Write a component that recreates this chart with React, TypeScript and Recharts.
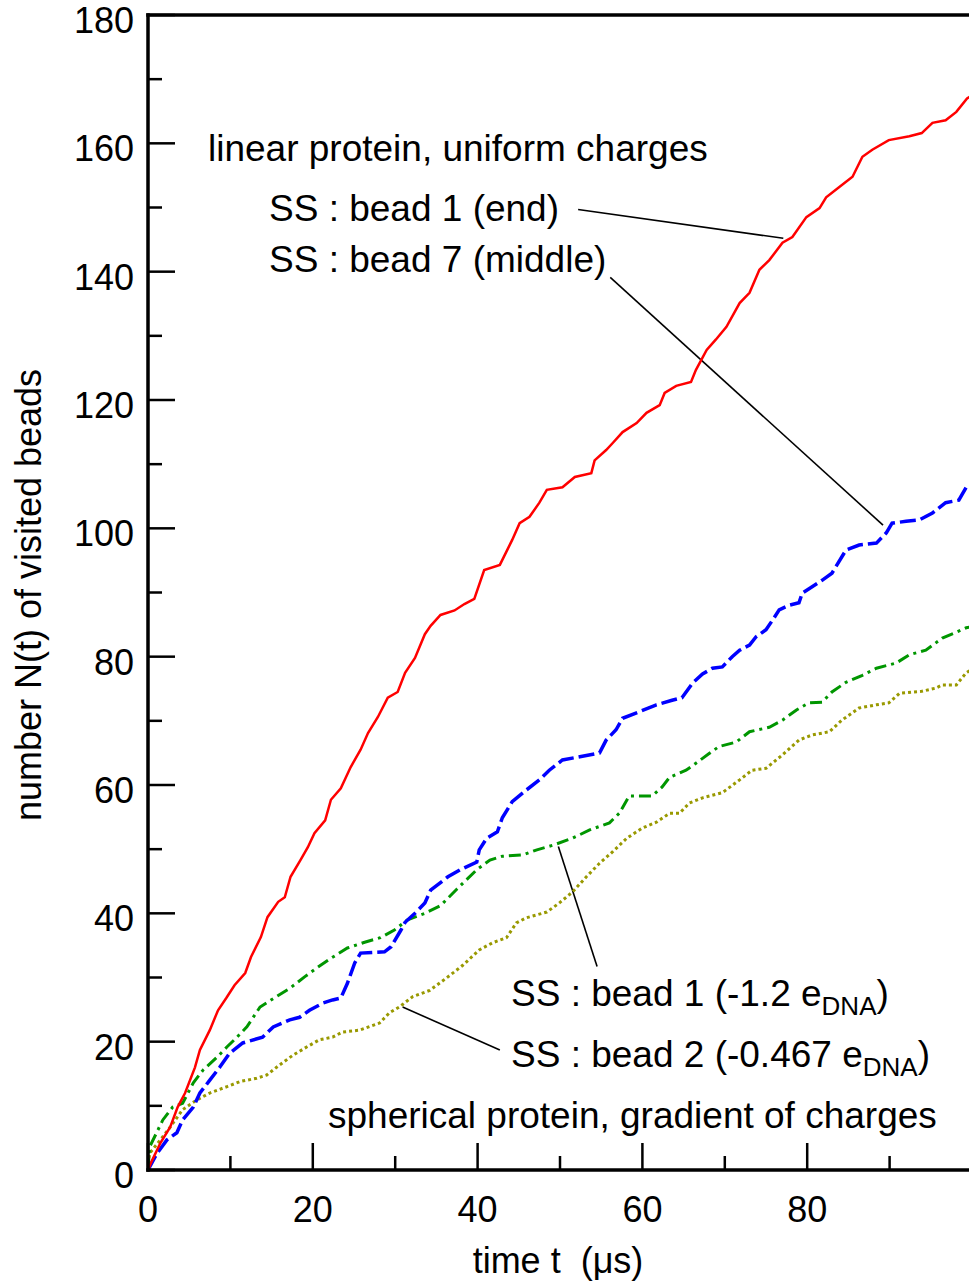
import { LineChart, Line, XAxis, YAxis, ReferenceLine } from "recharts";

// [time t (us), number of visited beads N(t)]
const endBead: [number, number][] = [
  [0, 0], [0.5, 1.5], [1.5, 4.2], [2.7, 6.7], [3.6, 9.8], [4.5, 12], [5.7, 16], [6.3, 18.7],
  [7.5, 21.8], [8.5, 24.9], [9.5, 26.8], [10.5, 28.8], [11.8, 30.7], [12.5, 33.2], [13.7, 36.3],
  [14.5, 39.4], [15.8, 41.8], [16.6, 42.5], [17.3, 45.7], [18.5, 48.3], [19.4, 50.3], [20.2, 52.5],
  [21.5, 54.5], [22.2, 57.7], [23.4, 59.5], [24.6, 62.8], [25.8, 65.5], [26.7, 68.1], [27.9, 70.6],
  [29.1, 73.6], [30.3, 74.5], [31.2, 77.5], [32.4, 79.8], [33.6, 83.5], [34.3, 84.8], [35.5, 86.5],
  [37.2, 87.2], [38.4, 88.2], [39.6, 89], [40.8, 93.5], [42.7, 94.3], [44.2, 98.2], [45.1, 100.8],
  [46.3, 101.8], [47.5, 104], [48.4, 106], [50.3, 106.4], [51.8, 108], [53.8, 108.6], [54.2, 110.6],
  [55.6, 112.2], [56.4, 113.3], [57.6, 115], [59.3, 116.4], [60.5, 118], [62.1, 119.2], [62.7, 121.1],
  [64.1, 122.2], [65.9, 122.8], [66.5, 124.7], [67.8, 127.8], [68.9, 129.4], [70.2, 131.4],
  [71.8, 135.1], [73, 136.7], [74.2, 140.3], [75.4, 141.8], [77, 144.5], [78.2, 145.4], [79.9, 148.5],
  [81.5, 149.9], [82.3, 151.6], [83.9, 153.2], [85.5, 154.8], [86.7, 157.9], [87.9, 159], [89.9, 160.5],
  [92.4, 161.1], [93.9, 161.6], [95.2, 163.2], [96.8, 163.6], [98.1, 164.9], [99.4, 167], [100, 167.5],
];

const middleBead: [number, number][] = [
  [0, 0], [0.2, 0.5], [1.1, 2.6], [2.3, 4.7], [3.5, 5.8], [4.2, 7.8], [5.5, 9.8], [6.3, 12], [7.5, 14],
  [8.7, 16], [9.9, 18.2], [11.5, 19.8], [13.9, 20.7], [15.2, 22.3], [17.2, 23.4], [18.4, 23.8],
  [19.6, 24.9], [21.2, 26], [22.4, 26.5], [23.4, 26.8], [24.2, 29.1], [25.1, 32.3], [25.8, 33.8],
  [28.7, 34], [29.5, 34.8], [30.7, 37.4], [31.2, 38.6], [32.4, 40], [33.6, 41.6], [34.3, 43.6],
  [36.4, 45.7], [37.9, 46.8], [39.9, 48], [40.2, 49.9], [41.1, 51.7], [42.4, 52.7], [43, 54.9],
  [44.2, 57.4], [45.9, 59.2], [47.5, 60.8], [48.7, 62.3], [50.3, 63.9], [52.4, 64.4], [54.8, 65],
  [55.6, 67], [56.8, 68.6], [57.6, 70.4], [59.6, 71.4], [61.7, 72.5], [63.6, 73.2], [64.8, 73.6],
  [66.1, 75.9], [67.3, 77.3], [68.5, 78.2], [69.7, 78.4], [70.9, 80], [71.8, 81], [73, 81.8],
  [73.8, 83.1], [75, 84.2], [75.8, 85.7], [76.6, 87.3], [77.8, 88], [79, 88.4], [79.4, 89.9],
  [80.6, 90.9], [81.8, 91.9], [83, 93], [84.7, 96.6], [86.3, 97.4], [88.4, 97.7], [89.6, 99.3],
  [90.3, 100.8], [92, 101.1], [93.6, 101.3], [95.2, 102.4], [96.8, 104], [98.4, 104.4], [99.3, 106.4],
  [100, 107],
];

const sphereBead1: [number, number][] = [
  [0, 0], [0.2, 3.6], [1.8, 7.8], [3, 9.8], [4.2, 10.4], [5.5, 13.6], [6.7, 15.6], [8.4, 17.6],
  [9.6, 19.2], [10.8, 20.7], [12, 22.3], [13.6, 25.4], [15.3, 26.8], [17.3, 28.4], [19, 30.1],
  [20.6, 31.6], [22.2, 33], [24.2, 34.6], [26.3, 35.5], [28.2, 36.2], [29.9, 37.4], [31.5, 39],
  [33.6, 40], [35.5, 41.2], [37.5, 43.8], [39.9, 46.8], [41.5, 48.3], [43, 48.9], [45.5, 49.1],
  [47.2, 49.9], [49.1, 50.6], [51.5, 51.7], [53.6, 53], [56, 54.1], [57.2, 55.6], [58.4, 58.3],
  [61.2, 58.3], [62.4, 59.7], [63.3, 61.2], [65.3, 62.3], [66.5, 63.4], [68.1, 64.9], [69.3, 66],
  [71.4, 66.7], [73, 68.3], [75.4, 69], [77, 70.1], [78.7, 71.7], [80.2, 72.8], [81.8, 72.9],
  [83, 74.5], [84.7, 76], [86.7, 77.1], [88.4, 78.2], [90.8, 79], [92.4, 80.3], [94.4, 81],
  [96.4, 82.9], [98.1, 83.8], [99.3, 84.5], [100, 84.7],
];

const sphereBead2: [number, number][] = [
  [0, 0], [0.2, 2.6], [1.5, 4.7], [2.7, 6.7], [4.2, 9.4], [5.9, 10.9], [7.5, 12], [9.6, 13],
  [11.2, 13.8], [13.2, 14.3], [14.4, 14.8], [16, 16.4], [17.6, 17.9], [19.3, 19.2], [20.8, 20.3],
  [22.4, 20.7], [23.6, 21.5], [25.7, 21.8], [28.1, 22.9], [29.3, 24.5], [30.5, 25.4], [32.1, 27],
  [34.2, 28], [36.2, 29.9], [38.2, 31.9], [40.2, 34.3], [41.8, 35.4], [43.5, 36.2], [44.7, 38.5],
  [45.9, 39.3], [48.4, 40.2], [49.9, 41.6], [51.5, 43.3], [53.2, 45.7], [54.8, 47.8], [56.4, 49.6],
  [58.1, 51.7], [60, 53.3], [61.7, 54.2], [63.3, 55.6], [64.5, 55.6], [65.7, 57.2], [67.3, 58],
  [69.7, 58.8], [71.8, 60.8], [73.3, 62.3], [75, 62.6], [77, 64.7], [79, 67], [80.6, 67.8],
  [82.7, 68.3], [84.2, 70.1], [86.3, 72], [88.4, 72.5], [89.9, 72.8], [91.2, 74.3], [93.9, 74.6],
  [95.6, 75.1], [96.4, 75.6], [98.1, 75.6], [99.3, 77.5], [100, 78],
];

const xTicks = [0, 10, 20, 30, 40, 50, 60, 70, 80, 90, 100];
const yTicks = [0, 10, 20, 30, 40, 50, 60, 70, 80, 90, 100, 110, 120, 130, 140, 150, 160, 170, 180];

// leader lines from the labels to the curves, in data units
const leaders: { x1: number; y1: number; x2: number; y2: number }[] = [
  { x1: 52.2, y1: 149.7, x2: 77.1, y2: 145.2 },
  { x1: 56.1, y1: 139.1, x2: 89.2, y2: 100.5 },
  { x1: 49.8, y1: 50.4, x2: 54.5, y2: 31.7 },
  { x1: 30.9, y1: 25.4, x2: 42.7, y2: 18.7 },
];

const FONT = '"Liberation Sans", Arial, Helvetica, sans-serif';
const toRows = (pts: [number, number][]) => pts.map(([t, n]) => ({ t, n }));

const major = (v: number) => v % 20 === 0;
const tickLine = { stroke: "#000", strokeWidth: 2.5 };

const BottomTick = (p: any) => {
  const v = p.payload.value;
  return (
    <g>
      <line x1={p.x} x2={p.x} y1={p.y} y2={p.y - (major(v) ? 27 : 14)} {...tickLine} />
      {major(v) && v < 100 ? (
        <text x={p.x} y={p.y + 52} textAnchor="middle" fontSize={36} fontFamily={FONT} fill="#000">
          {v}
        </text>
      ) : null}
    </g>
  );
};

const TopTick = (p: any) => (
  <line x1={p.x} x2={p.x} y1={p.y} y2={p.y + (major(p.payload.value) ? 27 : 14)} {...tickLine} />
);

const LeftTick = (p: any) => {
  const v = p.payload.value;
  return (
    <g>
      <line x1={p.x} x2={p.x + (major(v) ? 27 : 14)} y1={p.y} y2={p.y} {...tickLine} />
      {major(v) ? (
        <text x={p.x - 14} y={p.y + 18} textAnchor="end" fontSize={36} fontFamily={FONT} fill="#000">
          {v}
        </text>
      ) : null}
    </g>
  );
};

const RightTick = (p: any) => (
  <line x1={p.x} x2={p.x - (major(p.payload.value) ? 27 : 14)} y1={p.y} y2={p.y} {...tickLine} />
);

const axisLine = { stroke: "#000", strokeWidth: 3.5, strokeLinecap: "square" as const };

export default function App() {
  return (
    <div
      style={{
        position: "absolute",
        left: 0,
        top: 0,
        width: 969,
        height: 1285,
        overflow: "hidden",
        background: "#fff",
        fontFamily: FONT,
      }}
    >
      <LineChart width={973} height={1285} margin={{ top: 14, right: 0, bottom: 55, left: 48 }}>
        <XAxis
          xAxisId="b"
          type="number"
          dataKey="t"
          domain={[0, 100]}
          ticks={xTicks}
          interval={0}
          height={60}
          tickSize={0}
          tickMargin={0}
          tick={BottomTick}
          axisLine={axisLine}
          allowDataOverflow
        />
        <XAxis
          xAxisId="t"
          orientation="top"
          type="number"
          domain={[0, 100]}
          ticks={xTicks}
          interval={0}
          height={1}
          tickSize={0}
          tickMargin={0}
          tick={TopTick}
          axisLine={axisLine}
        />
        <YAxis
          yAxisId="l"
          type="number"
          domain={[0, 180]}
          ticks={yTicks}
          interval={0}
          width={100}
          tickSize={0}
          tickMargin={0}
          tick={LeftTick}
          axisLine={axisLine}
        />
        <YAxis
          yAxisId="r"
          orientation="right"
          type="number"
          domain={[0, 180]}
          ticks={yTicks}
          interval={0}
          width={1}
          tickSize={0}
          tickMargin={0}
          tick={RightTick}
          axisLine={axisLine}
        />
        {leaders.map((s, i) => (
          <ReferenceLine
            key={i}
            xAxisId="b"
            yAxisId="l"
            segment={[
              { x: s.x1, y: s.y1 },
              { x: s.x2, y: s.y2 },
            ]}
            stroke="#000"
            strokeWidth={1.6}
          />
        ))}
        <Line
          xAxisId="b"
          yAxisId="l"
          data={toRows(sphereBead2)}
          dataKey="n"
          type="linear"
          stroke="#999900"
          strokeWidth={3}
          strokeDasharray="3 3"
          dot={false}
          isAnimationActive={false}
        />
        <Line
          xAxisId="b"
          yAxisId="l"
          data={toRows(sphereBead1)}
          dataKey="n"
          type="linear"
          stroke="#009600"
          strokeWidth={3}
          strokeDasharray="12 5 3 5"
          dot={false}
          isAnimationActive={false}
        />
        <Line
          xAxisId="b"
          yAxisId="l"
          data={toRows(middleBead)}
          dataKey="n"
          type="linear"
          stroke="#0000ff"
          strokeWidth={3.5}
          strokeDasharray="16 5"
          dot={false}
          isAnimationActive={false}
        />
        <Line
          xAxisId="b"
          yAxisId="l"
          data={toRows(endBead)}
          dataKey="n"
          type="linear"
          stroke="#ff0000"
          strokeWidth={2.5}
          dot={false}
          isAnimationActive={false}
        />
      </LineChart>
      <svg
        width={969}
        height={1285}
        style={{ position: "absolute", left: 0, top: 0, pointerEvents: "none" }}
        fontFamily={FONT}
        fill="#000"
      >
        <text x={41} y={595} fontSize={36} textAnchor="middle" transform="rotate(-90 41 595)">
          number N(t) of visited beads
        </text>
        <text x={558} y={1273} fontSize={36} textAnchor="middle" style={{ whiteSpace: "pre" }}>
          {"time t  (\u03bcs)"}
        </text>
        <text x={208} y={161} fontSize={37}>linear protein, uniform charges</text>
        <text x={269} y={221} fontSize={37}>SS : bead 1 (end)</text>
        <text x={269} y={272} fontSize={37}>SS : bead 7 (middle)</text>
        <text x={511} y={1006} fontSize={37}>
          SS : bead 1 (-1.2 e
          <tspan dy={9} fontSize={26}>DNA</tspan>
          <tspan dy={-9}>)</tspan>
        </text>
        <text x={511} y={1067} fontSize={37}>
          SS : bead 2 (-0.467 e
          <tspan dy={9} fontSize={26}>DNA</tspan>
          <tspan dy={-9}>)</tspan>
        </text>
        <text x={328} y={1128} fontSize={37}>spherical protein, gradient of charges</text>
      </svg>
    </div>
  );
}
